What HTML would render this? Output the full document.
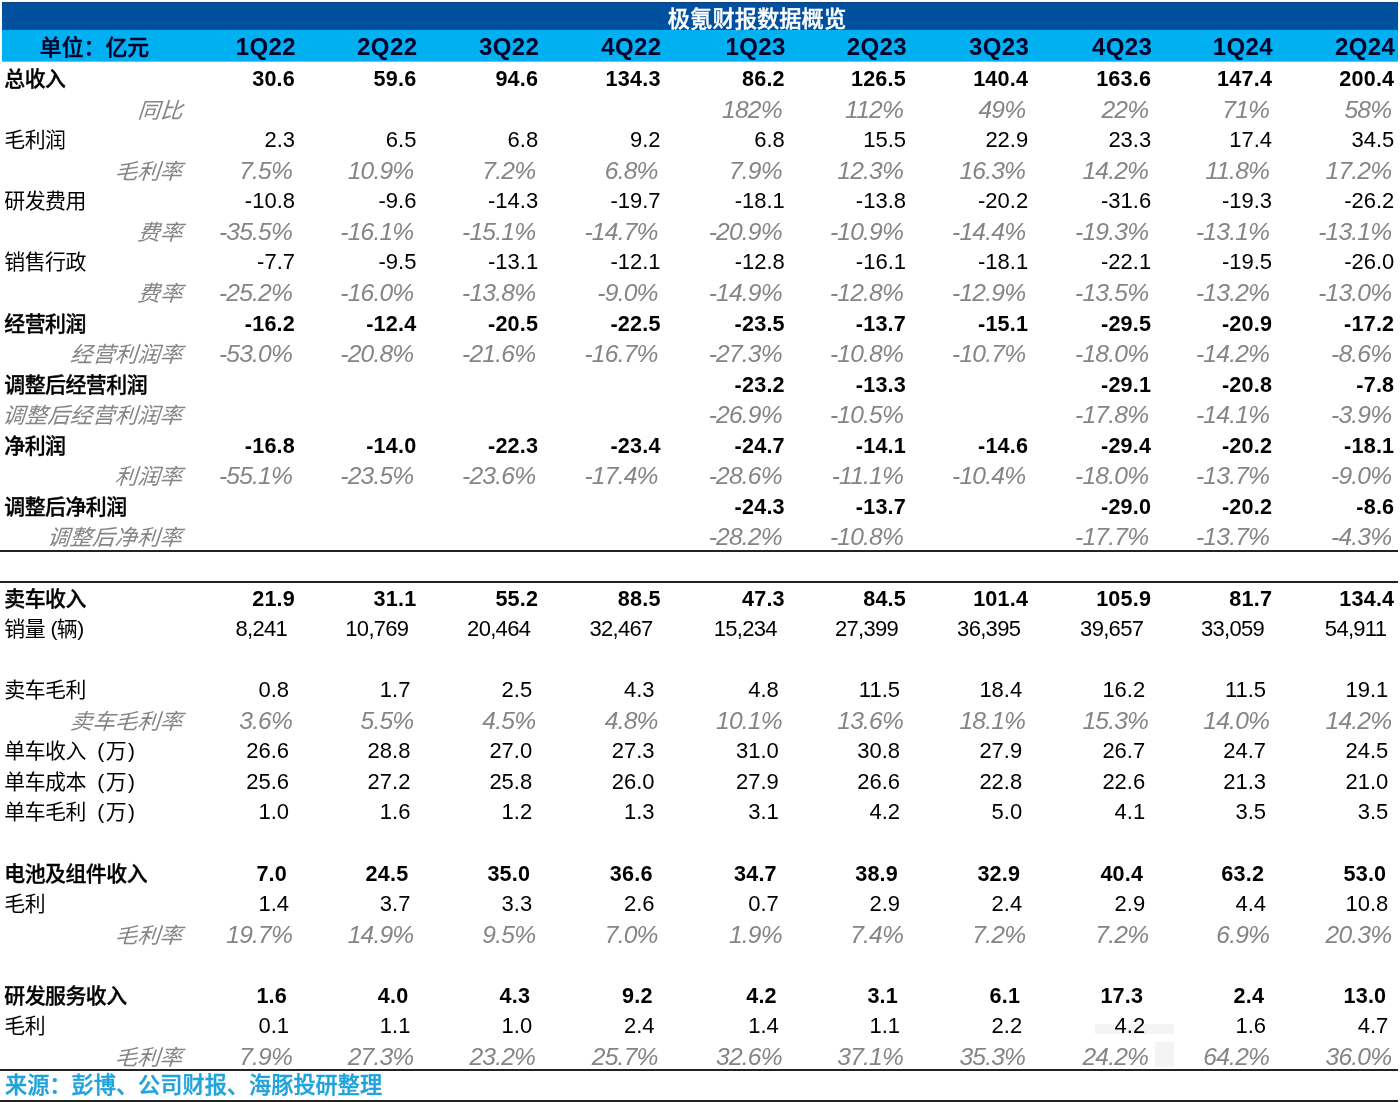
<!DOCTYPE html>
<html lang="zh-CN">
<head>
<meta charset="utf-8">
<title>极氪财报数据概览</title>
<style>
html,body{margin:0;padding:0;background:#fff;}
body{width:1400px;height:1102px;position:relative;overflow:hidden;font-family:"Liberation Sans","Noto Sans CJK SC",sans-serif;color:#000;}
.band1{position:absolute;left:2px;top:2px;width:1396px;height:28px;background:#0050a0;box-sizing:border-box;border-top:1px solid #0e427f;}
.band2{position:absolute;left:2px;top:30px;width:1396px;height:32px;background:#00b0f0;box-sizing:border-box;border-bottom:1px solid #62c6ee;}
.title{position:absolute;left:557px;width:400px;top:3.5px;height:28px;line-height:31px;text-align:center;color:#fff;font-weight:500;-webkit-text-stroke:.4px #fff;font-size:22.3px;white-space:nowrap;}
.r{position:absolute;left:0;width:1400px;height:31px;line-height:31px;font-size:20.4px;white-space:nowrap;}
.r > span{position:absolute;top:3.7px;height:31px;line-height:31px;white-space:nowrap;}
.r > .l{left:4.3px;font-size:20.9px;letter-spacing:-.5px;top:2.4px;}
.b > .l{font-weight:500;-webkit-text-stroke:.35px #000;}
.r .lr{right:1218px;font-size:21.6px;top:2.7px;transform:skewX(-4deg) scaleX(1.04);transform-origin:100% 75%;}
.b{font-weight:bold;}
.p{font-weight:normal;margin-left:6px;letter-spacing:1.5px;}
.i{font-style:italic;color:#858585;}
.r .num{font-size:22px;top:2.1px;}
.r .k{letter-spacing:-.7px;}
.b .num{font-size:21.6px;letter-spacing:.2px;top:2.2px;}
.i .num{font-size:24.6px;letter-spacing:-.8px;top:2.2px;}
.h{font-weight:bold;font-size:24px;color:#000028;letter-spacing:.4px;}
.r.h > span{top:-0.5px;}
.r.h > .hl{font-size:21.9px;letter-spacing:0;top:0.7px;font-weight:500;-webkit-text-stroke:.4px #000028;}
.wm{position:absolute;background:#f4f4f4;}
.hr{position:absolute;left:0;width:1398px;height:2px;background:#222;}
.src{color:#1fa3dc;font-weight:bold;font-size:22.2px;}
.r.src > .l{top:1.2px;font-size:22.2px;letter-spacing:0;left:5px;font-weight:500;-webkit-text-stroke:.4px #1fa3dc;}
</style>
</head>
<body>
<div class="band1"></div><div class="band2"></div>
<div class="wm" style="left:1095px;top:1024px;width:79px;height:10px"></div><div class="wm" style="left:1155px;top:1042px;width:19px;height:25px"></div>
<div class="title">极氪财报数据概览</div>
<div class="r h" style="top:31.0px"><span class="hl" style="left:2px;width:185px;text-align:center">单位：亿元</span><span style="right:1104.0px">1Q22</span><span style="right:982.6px">2Q22</span><span style="right:860.8px">3Q22</span><span style="right:738.4px">4Q22</span><span style="right:614.2px">1Q23</span><span style="right:493.0px">2Q23</span><span style="right:370.8px">3Q23</span><span style="right:247.8px">4Q23</span><span style="right:126.9px">1Q24</span><span style="right:4.7px">2Q24</span></div>
<div class="r b" style="top:61.0px"><span class="l">总收入</span><span class="num" style="right:1105.0px">30.6</span><span class="num" style="right:983.6px">59.6</span><span class="num" style="right:861.8px">94.6</span><span class="num" style="right:739.4px">134.3</span><span class="num" style="right:615.2px">86.2</span><span class="num" style="right:494.0px">126.5</span><span class="num" style="right:371.8px">140.4</span><span class="num" style="right:248.8px">163.6</span><span class="num" style="right:127.9px">147.4</span><span class="num" style="right:5.7px">200.4</span></div>
<div class="r i" style="top:92.0px"><span class="lr">同比</span><span class="num" style="right:618.2px">182%</span><span class="num" style="right:497.0px">112%</span><span class="num" style="right:374.8px">49%</span><span class="num" style="right:251.8px">22%</span><span class="num" style="right:130.9px">71%</span><span class="num" style="right:8.7px">58%</span></div>
<div class="r" style="top:122.0px"><span class="l">毛利润</span><span class="num" style="right:1105.0px">2.3</span><span class="num" style="right:983.6px">6.5</span><span class="num" style="right:861.8px">6.8</span><span class="num" style="right:739.4px">9.2</span><span class="num" style="right:615.2px">6.8</span><span class="num" style="right:494.0px">15.5</span><span class="num" style="right:371.8px">22.9</span><span class="num" style="right:248.8px">23.3</span><span class="num" style="right:127.9px">17.4</span><span class="num" style="right:5.7px">34.5</span></div>
<div class="r i" style="top:153.0px"><span class="lr">毛利率</span><span class="num" style="right:1108.0px">7.5%</span><span class="num" style="right:986.6px">10.9%</span><span class="num" style="right:864.8px">7.2%</span><span class="num" style="right:742.4px">6.8%</span><span class="num" style="right:618.2px">7.9%</span><span class="num" style="right:497.0px">12.3%</span><span class="num" style="right:374.8px">16.3%</span><span class="num" style="right:251.8px">14.2%</span><span class="num" style="right:130.9px">11.8%</span><span class="num" style="right:8.7px">17.2%</span></div>
<div class="r" style="top:183.0px"><span class="l">研发费用</span><span class="num" style="right:1105.0px">-10.8</span><span class="num" style="right:983.6px">-9.6</span><span class="num" style="right:861.8px">-14.3</span><span class="num" style="right:739.4px">-19.7</span><span class="num" style="right:615.2px">-18.1</span><span class="num" style="right:494.0px">-13.8</span><span class="num" style="right:371.8px">-20.2</span><span class="num" style="right:248.8px">-31.6</span><span class="num" style="right:127.9px">-19.3</span><span class="num" style="right:5.7px">-26.2</span></div>
<div class="r i" style="top:214.0px"><span class="lr">费率</span><span class="num" style="right:1108.0px">-35.5%</span><span class="num" style="right:986.6px">-16.1%</span><span class="num" style="right:864.8px">-15.1%</span><span class="num" style="right:742.4px">-14.7%</span><span class="num" style="right:618.2px">-20.9%</span><span class="num" style="right:497.0px">-10.9%</span><span class="num" style="right:374.8px">-14.4%</span><span class="num" style="right:251.8px">-19.3%</span><span class="num" style="right:130.9px">-13.1%</span><span class="num" style="right:8.7px">-13.1%</span></div>
<div class="r" style="top:244.0px"><span class="l">销售行政</span><span class="num" style="right:1105.0px">-7.7</span><span class="num" style="right:983.6px">-9.5</span><span class="num" style="right:861.8px">-13.1</span><span class="num" style="right:739.4px">-12.1</span><span class="num" style="right:615.2px">-12.8</span><span class="num" style="right:494.0px">-16.1</span><span class="num" style="right:371.8px">-18.1</span><span class="num" style="right:248.8px">-22.1</span><span class="num" style="right:127.9px">-19.5</span><span class="num" style="right:5.7px">-26.0</span></div>
<div class="r i" style="top:275.0px"><span class="lr">费率</span><span class="num" style="right:1108.0px">-25.2%</span><span class="num" style="right:986.6px">-16.0%</span><span class="num" style="right:864.8px">-13.8%</span><span class="num" style="right:742.4px">-9.0%</span><span class="num" style="right:618.2px">-14.9%</span><span class="num" style="right:497.0px">-12.8%</span><span class="num" style="right:374.8px">-12.9%</span><span class="num" style="right:251.8px">-13.5%</span><span class="num" style="right:130.9px">-13.2%</span><span class="num" style="right:8.7px">-13.0%</span></div>
<div class="r b" style="top:306.0px"><span class="l">经营利润</span><span class="num" style="right:1105.0px">-16.2</span><span class="num" style="right:983.6px">-12.4</span><span class="num" style="right:861.8px">-20.5</span><span class="num" style="right:739.4px">-22.5</span><span class="num" style="right:615.2px">-23.5</span><span class="num" style="right:494.0px">-13.7</span><span class="num" style="right:371.8px">-15.1</span><span class="num" style="right:248.8px">-29.5</span><span class="num" style="right:127.9px">-20.9</span><span class="num" style="right:5.7px">-17.2</span></div>
<div class="r i" style="top:336.0px"><span class="lr">经营利润率</span><span class="num" style="right:1108.0px">-53.0%</span><span class="num" style="right:986.6px">-20.8%</span><span class="num" style="right:864.8px">-21.6%</span><span class="num" style="right:742.4px">-16.7%</span><span class="num" style="right:618.2px">-27.3%</span><span class="num" style="right:497.0px">-10.8%</span><span class="num" style="right:374.8px">-10.7%</span><span class="num" style="right:251.8px">-18.0%</span><span class="num" style="right:130.9px">-14.2%</span><span class="num" style="right:8.7px">-8.6%</span></div>
<div class="r b" style="top:367.0px"><span class="l">调整后经营利润</span><span class="num" style="right:615.2px">-23.2</span><span class="num" style="right:494.0px">-13.3</span><span class="num" style="right:248.8px">-29.1</span><span class="num" style="right:127.9px">-20.8</span><span class="num" style="right:5.7px">-7.8</span></div>
<div class="r i" style="top:397.0px"><span class="lr">调整后经营利润率</span><span class="num" style="right:618.2px">-26.9%</span><span class="num" style="right:497.0px">-10.5%</span><span class="num" style="right:251.8px">-17.8%</span><span class="num" style="right:130.9px">-14.1%</span><span class="num" style="right:8.7px">-3.9%</span></div>
<div class="r b" style="top:428.0px"><span class="l">净利润</span><span class="num" style="right:1105.0px">-16.8</span><span class="num" style="right:983.6px">-14.0</span><span class="num" style="right:861.8px">-22.3</span><span class="num" style="right:739.4px">-23.4</span><span class="num" style="right:615.2px">-24.7</span><span class="num" style="right:494.0px">-14.1</span><span class="num" style="right:371.8px">-14.6</span><span class="num" style="right:248.8px">-29.4</span><span class="num" style="right:127.9px">-20.2</span><span class="num" style="right:5.7px">-18.1</span></div>
<div class="r i" style="top:458.0px"><span class="lr">利润率</span><span class="num" style="right:1108.0px">-55.1%</span><span class="num" style="right:986.6px">-23.5%</span><span class="num" style="right:864.8px">-23.6%</span><span class="num" style="right:742.4px">-17.4%</span><span class="num" style="right:618.2px">-28.6%</span><span class="num" style="right:497.0px">-11.1%</span><span class="num" style="right:374.8px">-10.4%</span><span class="num" style="right:251.8px">-18.0%</span><span class="num" style="right:130.9px">-13.7%</span><span class="num" style="right:8.7px">-9.0%</span></div>
<div class="r b" style="top:489.0px"><span class="l">调整后净利润</span><span class="num" style="right:615.2px">-24.3</span><span class="num" style="right:494.0px">-13.7</span><span class="num" style="right:248.8px">-29.0</span><span class="num" style="right:127.9px">-20.2</span><span class="num" style="right:5.7px">-8.6</span></div>
<div class="r i" style="top:519.0px"><span class="lr">调整后净利率</span><span class="num" style="right:618.2px">-28.2%</span><span class="num" style="right:497.0px">-10.8%</span><span class="num" style="right:251.8px">-17.7%</span><span class="num" style="right:130.9px">-13.7%</span><span class="num" style="right:8.7px">-4.3%</span></div>
<div class="r b" style="top:581.0px"><span class="l">卖车收入</span><span class="num" style="right:1105.0px">21.9</span><span class="num" style="right:983.6px">31.1</span><span class="num" style="right:861.8px">55.2</span><span class="num" style="right:739.4px">88.5</span><span class="num" style="right:615.2px">47.3</span><span class="num" style="right:494.0px">84.5</span><span class="num" style="right:371.8px">101.4</span><span class="num" style="right:248.8px">105.9</span><span class="num" style="right:127.9px">81.7</span><span class="num" style="right:5.7px">134.4</span></div>
<div class="r" style="top:611.0px"><span class="l">销量 (辆)</span><span class="num k" style="right:1113.0px">8,241</span><span class="num k" style="right:991.6px">10,769</span><span class="num k" style="right:869.8px">20,464</span><span class="num k" style="right:747.4px">32,467</span><span class="num k" style="right:623.2px">15,234</span><span class="num k" style="right:502.0px">27,399</span><span class="num k" style="right:379.8px">36,395</span><span class="num k" style="right:256.8px">39,657</span><span class="num k" style="right:135.9px">33,059</span><span class="num k" style="right:13.7px">54,911</span></div>
<div class="r" style="top:672.0px"><span class="l">卖车毛利</span><span class="num" style="right:1111.0px">0.8</span><span class="num" style="right:989.6px">1.7</span><span class="num" style="right:867.8px">2.5</span><span class="num" style="right:745.4px">4.3</span><span class="num" style="right:621.2px">4.8</span><span class="num" style="right:500.0px">11.5</span><span class="num" style="right:377.8px">18.4</span><span class="num" style="right:254.8px">16.2</span><span class="num" style="right:133.9px">11.5</span><span class="num" style="right:11.7px">19.1</span></div>
<div class="r i" style="top:703.0px"><span class="lr">卖车毛利率</span><span class="num" style="right:1108.0px">3.6%</span><span class="num" style="right:986.6px">5.5%</span><span class="num" style="right:864.8px">4.5%</span><span class="num" style="right:742.4px">4.8%</span><span class="num" style="right:618.2px">10.1%</span><span class="num" style="right:497.0px">13.6%</span><span class="num" style="right:374.8px">18.1%</span><span class="num" style="right:251.8px">15.3%</span><span class="num" style="right:130.9px">14.0%</span><span class="num" style="right:8.7px">14.2%</span></div>
<div class="r" style="top:733.0px"><span class="l">单车收入 <span class="p">(万)</span></span><span class="num" style="right:1111.0px">26.6</span><span class="num" style="right:989.6px">28.8</span><span class="num" style="right:867.8px">27.0</span><span class="num" style="right:745.4px">27.3</span><span class="num" style="right:621.2px">31.0</span><span class="num" style="right:500.0px">30.8</span><span class="num" style="right:377.8px">27.9</span><span class="num" style="right:254.8px">26.7</span><span class="num" style="right:133.9px">24.7</span><span class="num" style="right:11.7px">24.5</span></div>
<div class="r" style="top:764.0px"><span class="l">单车成本 <span class="p">(万)</span></span><span class="num" style="right:1111.0px">25.6</span><span class="num" style="right:989.6px">27.2</span><span class="num" style="right:867.8px">25.8</span><span class="num" style="right:745.4px">26.0</span><span class="num" style="right:621.2px">27.9</span><span class="num" style="right:500.0px">26.6</span><span class="num" style="right:377.8px">22.8</span><span class="num" style="right:254.8px">22.6</span><span class="num" style="right:133.9px">21.3</span><span class="num" style="right:11.7px">21.0</span></div>
<div class="r" style="top:794.0px"><span class="l">单车毛利 <span class="p">(万)</span></span><span class="num" style="right:1111.0px">1.0</span><span class="num" style="right:989.6px">1.6</span><span class="num" style="right:867.8px">1.2</span><span class="num" style="right:745.4px">1.3</span><span class="num" style="right:621.2px">3.1</span><span class="num" style="right:500.0px">4.2</span><span class="num" style="right:377.8px">5.0</span><span class="num" style="right:254.8px">4.1</span><span class="num" style="right:133.9px">3.5</span><span class="num" style="right:11.7px">3.5</span></div>
<div class="r b" style="top:856.0px"><span class="l">电池及组件收入</span><span class="num" style="right:1113.0px">7.0</span><span class="num" style="right:991.6px">24.5</span><span class="num" style="right:869.8px">35.0</span><span class="num" style="right:747.4px">36.6</span><span class="num" style="right:623.2px">34.7</span><span class="num" style="right:502.0px">38.9</span><span class="num" style="right:379.8px">32.9</span><span class="num" style="right:256.8px">40.4</span><span class="num" style="right:135.9px">63.2</span><span class="num" style="right:13.7px">53.0</span></div>
<div class="r" style="top:886.0px"><span class="l">毛利</span><span class="num" style="right:1111.0px">1.4</span><span class="num" style="right:989.6px">3.7</span><span class="num" style="right:867.8px">3.3</span><span class="num" style="right:745.4px">2.6</span><span class="num" style="right:621.2px">0.7</span><span class="num" style="right:500.0px">2.9</span><span class="num" style="right:377.8px">2.4</span><span class="num" style="right:254.8px">2.9</span><span class="num" style="right:133.9px">4.4</span><span class="num" style="right:11.7px">10.8</span></div>
<div class="r i" style="top:917.0px"><span class="lr">毛利率</span><span class="num" style="right:1108.0px">19.7%</span><span class="num" style="right:986.6px">14.9%</span><span class="num" style="right:864.8px">9.5%</span><span class="num" style="right:742.4px">7.0%</span><span class="num" style="right:618.2px">1.9%</span><span class="num" style="right:497.0px">7.4%</span><span class="num" style="right:374.8px">7.2%</span><span class="num" style="right:251.8px">7.2%</span><span class="num" style="right:130.9px">6.9%</span><span class="num" style="right:8.7px">20.3%</span></div>
<div class="r b" style="top:978.0px"><span class="l">研发服务收入</span><span class="num" style="right:1113.0px">1.6</span><span class="num" style="right:991.6px">4.0</span><span class="num" style="right:869.8px">4.3</span><span class="num" style="right:747.4px">9.2</span><span class="num" style="right:623.2px">4.2</span><span class="num" style="right:502.0px">3.1</span><span class="num" style="right:379.8px">6.1</span><span class="num" style="right:256.8px">17.3</span><span class="num" style="right:135.9px">2.4</span><span class="num" style="right:13.7px">13.0</span></div>
<div class="r" style="top:1008.0px"><span class="l">毛利</span><span class="num" style="right:1111.0px">0.1</span><span class="num" style="right:989.6px">1.1</span><span class="num" style="right:867.8px">1.0</span><span class="num" style="right:745.4px">2.4</span><span class="num" style="right:621.2px">1.4</span><span class="num" style="right:500.0px">1.1</span><span class="num" style="right:377.8px">2.2</span><span class="num" style="right:254.8px">4.2</span><span class="num" style="right:133.9px">1.6</span><span class="num" style="right:11.7px">4.7</span></div>
<div class="r i" style="top:1039.0px"><span class="lr">毛利率</span><span class="num" style="right:1108.0px">7.9%</span><span class="num" style="right:986.6px">27.3%</span><span class="num" style="right:864.8px">23.2%</span><span class="num" style="right:742.4px">25.7%</span><span class="num" style="right:618.2px">32.6%</span><span class="num" style="right:497.0px">37.1%</span><span class="num" style="right:374.8px">35.3%</span><span class="num" style="right:251.8px">24.2%</span><span class="num" style="right:130.9px">64.2%</span><span class="num" style="right:8.7px">36.0%</span></div>
<div class="r src" style="top:1069.0px"><span class="l">来源：彭博、公司财报、海豚投研整理</span></div>
<div class="hr" style="top:550.0px"></div>
<div class="hr" style="top:580.5px"></div>
<div class="hr" style="top:1069.3px"></div>
<div class="hr" style="top:1100.0px"></div>
</body>
</html>
